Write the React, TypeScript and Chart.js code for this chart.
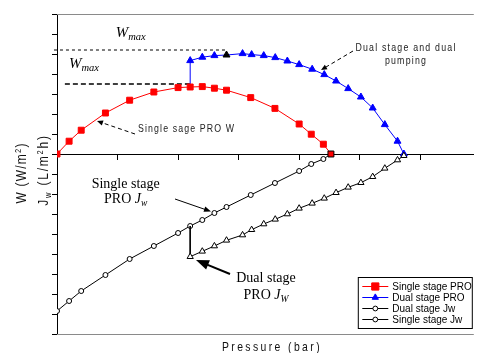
import React, { useEffect, useRef } from "react";
import { Chart, registerables } from "chart.js";

Chart.register(...registerables);

// ---- data (pressure in bar, W in W/m2, Jw in L/m2h) ----
const pressureSingle = [0, 0.4, 0.8, 1.6, 2.4, 3.2, 4.0, 4.4, 4.8, 5.2, 5.6, 6.4, 7.2, 8.0, 8.4, 8.8, 9.05];
const powerSingle = [0, 0.64, 1.19, 2.05, 2.69, 3.1, 3.32, 3.35, 3.37, 3.29, 3.19, 2.82, 2.28, 1.5, 0.99, 0.49, 0];
const fluxSingle = [15.7, 14.7, 13.7, 12.1, 10.5, 9.2, 7.9, 7.2, 6.6, 5.9, 5.3, 4.1, 2.9, 1.7, 1.0, 0.5, 0];

const pressureDual = [4.4, 4.4, 4.8, 5.2, 5.6, 6.13, 6.43, 6.83, 7.21, 7.61, 8.0, 8.43, 8.83, 9.22, 9.62, 10.04, 10.43, 10.83, 11.25, 11.46];
const powerDual = [3.35, 4.67, 4.84, 4.92, 4.95, 5.02, 4.97, 4.92, 4.82, 4.65, 4.47, 4.24, 3.97, 3.65, 3.27, 2.85, 2.3, 1.47, 0.64, 0];
const fluxDual = [7.2, 10.27, 9.73, 9.2, 8.63, 8.1, 7.57, 7.0, 6.53, 6.0, 5.43, 4.93, 4.43, 3.87, 3.33, 2.87, 2.27, 1.43, 0.6, 0.17];
const dualMarkedIndex = 4;

const wmaxSingleP = [0.26, 4.4];
const wmaxSingleW = [3.5, 3.5];
const wmaxDualP = [-0.1, 5.64];
const wmaxDualW = [5.2, 5.2];

const legendLabels = ["Single stage PRO", "Dual stage PRO", "Dual stage Jw", "Single stage Jw"];

const pressureMin = 0;
const pressureMax = 13.77;
const pressureStep = 2;
const powerMin = -9;
const powerMax = 7;
const powerStep = 1;
const fluxMin = -14;
const fluxMax = 18;

const SANS = '"Liberation Sans", Arial, sans-serif';
const SERIF = '"Liberation Serif", "Times New Roman", serif';

type Marker = { style: string; r: number; fill: string; stroke: string; line: string };
const legendMarkers: Marker[] = [
  { style: "rect", r: 3.6, fill: "#ff0000", stroke: "#ff0000", line: "#ff0000" },
  { style: "triangle", r: 3.6, fill: "#0000ff", stroke: "#0000ff", line: "#0000ff" },
  { style: "circle", r: 2.4, fill: "#ffffff", stroke: "#000000", line: "#000000" },
  { style: "circle", r: 2.4, fill: "#ffffff", stroke: "#000000", line: "#000000" },
];

function drawMarker(ctx: CanvasRenderingContext2D, m: Marker, x: number, y: number) {
  ctx.beginPath();
  if (m.style === "rect") {
    const s = m.r;
    ctx.rect(x - s, y - s, 2 * s, 2 * s);
  } else if (m.style === "triangle") {
    ctx.moveTo(x, y - m.r);
    ctx.lineTo(x + 0.866 * m.r, y + 0.5 * m.r);
    ctx.lineTo(x - 0.866 * m.r, y + 0.5 * m.r);
    ctx.closePath();
  } else {
    ctx.arc(x, y, m.r, 0, Math.PI * 2);
  }
  ctx.fillStyle = m.fill;
  ctx.fill();
  ctx.strokeStyle = m.stroke;
  ctx.lineWidth = 1;
  ctx.stroke();
}

const framePlugin = {
  id: "frameLines",
  beforeDatasetsDraw(chart: any) {
    const { ctx, chartArea } = chart;
    ctx.save();
    ctx.strokeStyle = "#8a8a8a";
    ctx.lineWidth = 1;
    ctx.beginPath();
    ctx.moveTo(chartArea.left, chartArea.top + 0.5);
    ctx.lineTo(chartArea.right, chartArea.top + 0.5);
    ctx.moveTo(chartArea.left, chartArea.bottom + 0.5);
    ctx.lineTo(chartArea.right, chartArea.bottom + 0.5);
    ctx.stroke();
    ctx.restore();
  },
};

const legendPlugin = {
  id: "boxLegend",
  afterDraw(chart: any) {
    const { ctx, chartArea } = chart;
    const left = chartArea.right - 115.5;
    const top = chartArea.bottom - 56.5;
    const w = 114;
    const h = 51;
    ctx.save();
    ctx.fillStyle = "#ffffff";
    ctx.fillRect(left, top, w, h);
    ctx.strokeStyle = "#000000";
    ctx.lineWidth = 1;
    ctx.strokeRect(left, top, w, h);
    legendLabels.forEach((label, i) => {
      const m = legendMarkers[i];
      const y = Math.round(top + 8 + i * 11.3) + 0.5;
      ctx.strokeStyle = m.line;
      ctx.lineWidth = 1;
      ctx.beginPath();
      ctx.moveTo(left + 4, y);
      ctx.lineTo(left + 30, y);
      ctx.stroke();
      drawMarker(ctx, m, left + 17, y);
      ctx.fillStyle = "#000000";
      ctx.font = `10px ${SANS}`;
      ctx.textBaseline = "middle";
      ctx.textAlign = "left";
      ctx.fillText(label, left + 34, y + 0.5);
    });
    ctx.restore();
  },
};

function pts(xs: number[], ys: number[]) {
  return xs.map((x, i) => ({ x, y: ys[i] }));
}

function arrowHead(x1: number, y1: number, x2: number, y2: number, len: number, half: number) {
  const dx = x2 - x1;
  const dy = y2 - y1;
  const L = Math.hypot(dx, dy);
  const ux = dx / L;
  const uy = dy / L;
  const bx = x2 - ux * len;
  const by = y2 - uy * len;
  return {
    poly: `${x2},${y2} ${bx - uy * half},${by + ux * half} ${bx + uy * half},${by - ux * half}`,
    bx: x2 - ux * (len - 1),
    by: y2 - uy * (len - 1),
  };
}

const arrows = [
  { x1: 135, y1: 134, x2: 97, y2: 121, dash: "4 3", w: 1, len: 6, half: 2.6 },
  { x1: 353, y1: 51, x2: 321, y2: 70, dash: "4 3", w: 1, len: 6, half: 2.6 },
  { x1: 175, y1: 199, x2: 211, y2: 211.5, dash: "", w: 1, len: 7, half: 2.8 },
  { x1: 230, y1: 274, x2: 196, y2: 260, dash: "", w: 2, len: 13, half: 5 },
];

export default function App() {
  const ref = useRef<HTMLCanvasElement>(null);

  useEffect(() => {
    const canvas = ref.current;
    if (!canvas) return;
    const lastSingle = pressureSingle.length - 1;
    const chart = new Chart(canvas, {
      type: "scatter",
      data: {
        datasets: [
          {
            label: legendLabels[0],
            data: pts(pressureSingle, powerSingle),
            yAxisID: "y",
            showLine: true,
            borderColor: "#ff0000",
            borderWidth: 1,
            backgroundColor: "#ff0000",
            pointStyle: "rect",
            pointRadius: 4.2,
            pointBorderWidth: 1,
            pointBackgroundColor: "#ff0000",
            pointBorderColor: pressureSingle.map((_, i) => (i === lastSingle ? "#000000" : "#ff0000")),
            order: 1,
          },
          {
            label: legendLabels[1],
            data: pts(pressureDual, powerDual),
            yAxisID: "y",
            showLine: true,
            borderColor: "#0000ff",
            borderWidth: 1,
            pointStyle: "triangle",
            pointRadius: pressureDual.map((_, i) => (i === 0 ? 0 : 4)),
            pointBorderWidth: 1,
            pointBackgroundColor: pressureDual.map((_, i) => (i === dualMarkedIndex ? "#000000" : "#0000ff")),
            pointBorderColor: pressureDual.map((_, i) => (i === dualMarkedIndex ? "#000000" : "#0000ff")),
            order: 3,
          },
          {
            label: legendLabels[2],
            data: pts(pressureDual, fluxDual),
            yAxisID: "yJ",
            showLine: true,
            borderColor: "#000000",
            borderWidth: 1,
            pointStyle: "triangle",
            pointRadius: pressureDual.map((_, i) => (i === 0 ? 0 : 3.6)),
            pointBorderWidth: 1,
            pointBackgroundColor: "#ffffff",
            pointBorderColor: "#000000",
            order: 2,
          },
          {
            label: legendLabels[3],
            data: pts(pressureSingle, fluxSingle),
            yAxisID: "yJ",
            showLine: true,
            borderColor: "#000000",
            borderWidth: 1,
            pointStyle: "circle",
            pointRadius: 2.5,
            pointBorderWidth: 1,
            pointBackgroundColor: "#ffffff",
            pointBorderColor: "#000000",
            order: 4,
          },
          {
            label: "Wmax single",
            data: pts(wmaxSingleP, wmaxSingleW),
            yAxisID: "y",
            showLine: true,
            borderColor: "#000000",
            borderWidth: 1.3,
            borderDash: [5, 3],
            pointRadius: 0,
            order: 5,
          },
          {
            label: "Wmax dual",
            data: pts(wmaxDualP, wmaxDualW),
            yAxisID: "y",
            showLine: true,
            borderColor: "#000000",
            borderWidth: 1,
            borderDash: [3, 3],
            pointRadius: 0,
            clip: false,
            order: 5,
          },
        ],
      } as any,
      options: {
        animation: false,
        responsive: false,
        devicePixelRatio: 1,
        events: [],
        layout: { padding: { top: 14, bottom: 19, left: 0, right: 0 } },
        plugins: {
          legend: { display: false },
          tooltip: { enabled: false },
        },
        elements: { line: { tension: 0 } },
        scales: {
          x: {
            type: "linear",
            position: { y: 0 } as any,
            min: pressureMin,
            max: pressureMax,
            ticks: { stepSize: pressureStep, display: false, includeBounds: false },
            grid: { drawOnChartArea: false, drawTicks: true, tickLength: 5, color: "#000000" },
            border: { color: "#000000", width: 1 },
          },
          y: {
            type: "linear",
            position: "left",
            min: powerMin,
            max: powerMax,
            ticks: { stepSize: powerStep, display: false },
            grid: { drawOnChartArea: false, drawTicks: true, tickLength: 5, color: "#000000" },
            border: { color: "#000000", width: 1 },
            afterFit: (scale: any) => {
              scale.width = 57;
            },
          },
          yJ: {
            type: "linear",
            display: false,
            reverse: true,
            min: fluxMin,
            max: fluxMax,
          },
        },
      } as any,
      plugins: [framePlugin, legendPlugin],
    });
    return () => chart.destroy();
  }, []);

  const narrowBase: React.CSSProperties = {
    position: "absolute",
    fontFamily: SANS,
    whiteSpace: "nowrap",
    color: "#222",
  };
  const serifBase: React.CSSProperties = {
    position: "absolute",
    fontFamily: SERIF,
    whiteSpace: "nowrap",
    color: "#000",
    textAlign: "center",
  };

  return (
    <div style={{ position: "absolute", left: 0, top: 0, width: 479, height: 353, background: "#fff", overflow: "hidden" }}>
      <canvas ref={ref} width={479} height={353} style={{ display: "block", width: 479, height: 353 }} />

      {/* W max labels */}
      <div style={{ ...serifBase, left: 115.7, top: 25, fontSize: 15, lineHeight: "15px", fontStyle: "italic", textAlign: "left" }}>
        W<span style={{ fontSize: 10.5, position: "relative", top: 3 }}>max</span>
      </div>
      <div style={{ ...serifBase, left: 69, top: 55.8, fontSize: 15, lineHeight: "15px", fontStyle: "italic", textAlign: "left" }}>
        W<span style={{ fontSize: 10.5, position: "relative", top: 3 }}>max</span>
      </div>

      {/* sans annotations */}
      <div style={{ ...narrowBase, left: 138, top: 123, fontSize: 11, lineHeight: "11px", letterSpacing: 1.4, transform: "scaleX(0.8)", transformOrigin: "left top" }}>
        Single sage PRO W
      </div>
      <div style={{ ...narrowBase, left: 406, top: 41, fontSize: 11, lineHeight: "12.5px", letterSpacing: 1.5, textAlign: "center", transform: "translateX(-50%) scaleX(0.8)" }}>
        Dual stage and dual
        <br />
        pumping
      </div>

      {/* serif annotations */}
      <div style={{ ...serifBase, left: 125.7, top: 175.8, fontSize: 14, lineHeight: "15px", transform: "translateX(-50%)" }}>
        Single stage
        <br />
        PRO <i>J</i><i style={{ fontSize: 9.5, position: "relative", top: 3 }}>w</i>
      </div>
      <div style={{ ...serifBase, left: 266, top: 268.5, fontSize: 14, lineHeight: "17px", transform: "translateX(-50%)" }}>
        Dual stage
        <br />
        PRO <i>J</i><i style={{ fontSize: 9.5, position: "relative", top: 3 }}>W</i>
      </div>

      {/* axis titles */}
      <div style={{ ...narrowBase, left: 271.5, top: 340, fontSize: 13, lineHeight: "13px", letterSpacing: 3, color: "#111", transform: "translateX(-50%) scaleX(0.8)" }}>
        Pressure (bar)
      </div>
      <div style={{ ...narrowBase, left: 21, top: 173, fontSize: 15, lineHeight: "15px", letterSpacing: 1.5, color: "#111", transform: "translate(-50%, -50%) rotate(-90deg) scaleX(0.8)" }}>
        W (W/m<span style={{ fontSize: 9.5, position: "relative", top: -5 }}>2</span>)
      </div>
      <div style={{ ...narrowBase, left: 43, top: 170, fontSize: 15, lineHeight: "15px", letterSpacing: 2.2, color: "#111", transform: "translate(-50%, -50%) rotate(-90deg) scaleX(0.8)" }}>
        J<span style={{ fontSize: 9.5, position: "relative", top: 3 }}>w</span> (L/m<span style={{ fontSize: 9.5, position: "relative", top: -5 }}>2</span>h)
      </div>

      {/* arrows */}
      <svg width={479} height={353} style={{ position: "absolute", left: 0, top: 0, pointerEvents: "none" }}>
        {arrows.map((a, i) => {
          const h = arrowHead(a.x1, a.y1, a.x2, a.y2, a.len, a.half);
          return (
            <g key={i}>
              <line x1={a.x1} y1={a.y1} x2={h.bx} y2={h.by} stroke="#000" strokeWidth={a.w} strokeDasharray={a.dash || undefined} />
              <polygon points={h.poly} fill="#000" />
            </g>
          );
        })}
      </svg>
    </div>
  );
}
